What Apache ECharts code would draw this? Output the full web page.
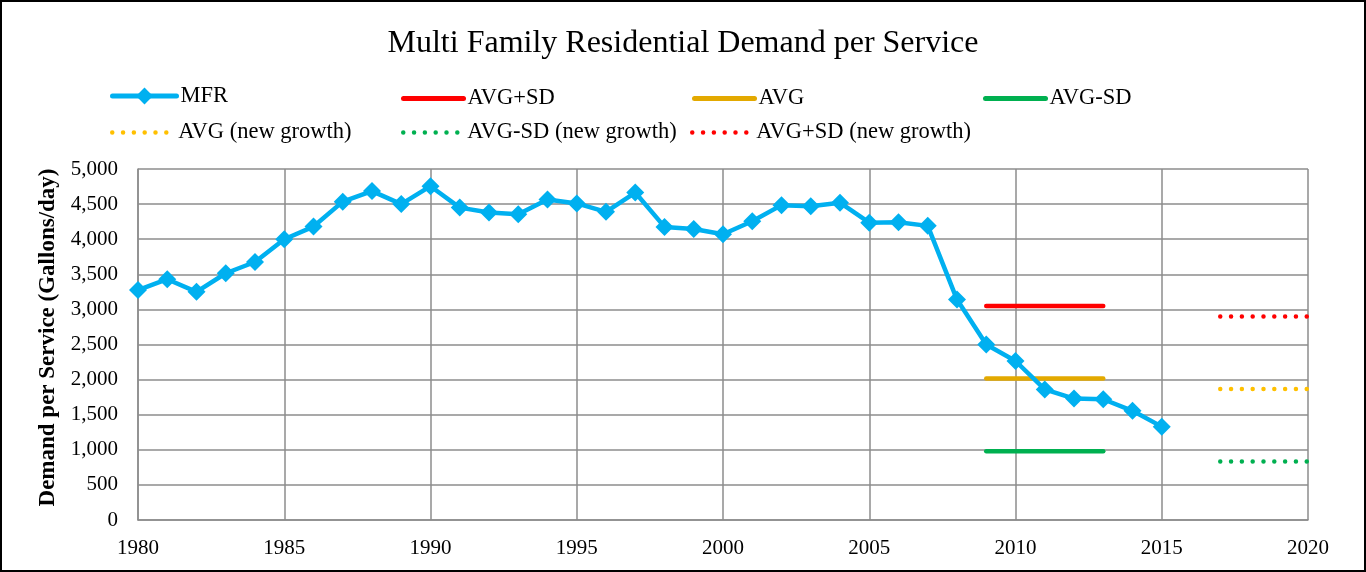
<!DOCTYPE html>
<html>
<head>
<meta charset="utf-8">
<script src="https://cdn.jsdelivr.net/npm/echarts@6/dist/echarts.min.js"></script>
<style>
html,body{margin:0;padding:0;background:#fff;}
#wrap{position:relative;width:1366px;height:572px;}
#chart{width:1366px;height:572px;}
#frame{position:absolute;left:0;top:0;width:1366px;height:572px;box-sizing:border-box;border:2px solid #000;pointer-events:none;}
</style>
</head>
<body>
<div id="wrap"><div id="chart"></div><div id="frame"></div></div>
<script>
// ---- data ----
const years = [1980,1981,1982,1983,1984,1985,1986,1987,1988,1989,1990,1991,1992,1993,1994,1995,1996,1997,1998,1999,2000,2001,2002,2003,2004,2005,2006,2007,2008,2009,2010,2011,2012,2013,2014,2015];
const mfr = [3275,3430,3250,3515,3675,4000,4180,4535,4685,4500,4755,4450,4380,4355,4565,4510,4390,4665,4175,4145,4070,4255,4485,4470,4520,4235,4240,4190,3140,2500,2265,1860,1730,1720,1555,1330];
const histYears = [2009, 2013];
const avgPlusSD = 3050;
const avg = 2015;
const avgMinusSD = 980;
const newYears = [2017, 2020];
const avgNew = 1865;
const avgMinusSDNew = 835;
const avgPlusSDNew = 2900;
const xTicks = {min:1980, max:2020, interval:5};
const yTicks = {min:0, max:5000, interval:500};

const pairs = (xs, v) => xs.map(x => [x, v]);
const FONT = '"Liberation Serif","Times New Roman",serif';

const chart = echarts.init(document.getElementById('chart'), null, {renderer:'canvas'});
const DOT = [0.01, 10.8];
const dotted = (color) => ({color: color, width: 4.5, type: DOT, cap: 'round'});

const legendDefs = [
  {name:'MFR', left:110, top:84.5, w:64, h:21, kind:'mfr'},
  {name:'AVG+SD', left:401, top:87, w:60, h:15, kind:'solid'},
  {name:'AVG', left:692, top:87, w:60, h:15, kind:'solid'},
  {name:'AVG-SD', left:983, top:87, w:60, h:15, kind:'solid'},
  {name:'AVG (new growth)', left:110, top:121, w:62, h:15, kind:'dot'},
  {name:'AVG-SD (new growth)', left:401, top:121, w:60, h:15, kind:'dot'},
  {name:'AVG+SD (new growth)', left:690, top:121, w:60, h:15, kind:'dot'}
];

const option = {
  animation:false,
  backgroundColor:'#fff',
  title:{
    text:'Multi Family Residential Demand per Service',
    left:'center', top:23,
    textStyle:{fontFamily:FONT, fontSize:32, fontWeight:'normal', color:'#000'}
  },
  legend: legendDefs.map(d => ({
    data:[d.name], left:d.left, top:d.top, itemWidth:d.w, itemHeight:d.h, itemGap:0,
    textStyle:{fontFamily:FONT, fontSize:22.5, color:'#000', padding:[0,0,0,-1]},
    padding:0,
    itemStyle: d.kind === 'mfr' ? {} : {opacity:0},
    lineStyle: d.kind === 'dot' ? {width:4.5, type:DOT, cap:'round'} : {width:5, cap:'round'}
  })),
  grid:{left:138, right:58, top:169, bottom:52, containLabel:false},
  xAxis:{
    type:'value', min:xTicks.min, max:xTicks.max, interval:xTicks.interval,
    axisLine:{show:true, lineStyle:{color:'#8c8c8c', width:1.5}},
    axisTick:{show:false},
    splitLine:{show:true, lineStyle:{color:'#8c8c8c', width:1.5}},
    axisLabel:{fontFamily:FONT, fontSize:21, color:'#000', margin:18, formatter: v => String(v)}
  },
  yAxis:{
    type:'value', min:yTicks.min, max:yTicks.max, interval:yTicks.interval,
    name:'Demand per Service (Gallons/day)', nameLocation:'middle', nameGap:75,
    nameTextStyle:{fontFamily:FONT, fontSize:23, fontWeight:'bold', color:'#000', padding:[0,0,0,14]},
    axisLine:{show:true, lineStyle:{color:'#8c8c8c', width:1.5}},
    axisTick:{show:false},
    splitLine:{show:true, lineStyle:{color:'#8c8c8c', width:1.5}},
    axisLabel:{fontFamily:FONT, fontSize:21, color:'#000', margin:20,
      formatter: v => v.toLocaleString('en-US')}
  },
  series:[
    {name:'MFR', type:'line', data: years.map((y,i)=>[y, mfr[i]]),
      symbol:'diamond', symbolSize:18, showSymbol:true,
      lineStyle:{color:'#00B0F0', width:4.5}, itemStyle:{color:'#00B0F0'}, z:5},
    {name:'AVG+SD', type:'line', data: pairs(histYears, avgPlusSD), symbol:'none',
      lineStyle:{color:'#FF0000', width:4.5, cap:'round'}, itemStyle:{color:'#FF0000'}},
    {name:'AVG', type:'line', data: pairs(histYears, avg), symbol:'none',
      lineStyle:{color:'#E3A900', width:4.5, cap:'round'}, itemStyle:{color:'#E3A900'}},
    {name:'AVG-SD', type:'line', data: pairs(histYears, avgMinusSD), symbol:'none',
      lineStyle:{color:'#00B050', width:4.5, cap:'round'}, itemStyle:{color:'#00B050'}},
    {name:'AVG (new growth)', type:'line', data: pairs(newYears, avgNew), symbol:'none',
      lineStyle:dotted('#FFC000'), itemStyle:{color:'#FFC000'}},
    {name:'AVG-SD (new growth)', type:'line', data: pairs(newYears, avgMinusSDNew), symbol:'none',
      lineStyle:dotted('#00B050'), itemStyle:{color:'#00B050'}},
    {name:'AVG+SD (new growth)', type:'line', data: pairs(newYears, avgPlusSDNew), symbol:'none',
      lineStyle:dotted('#FF0000'), itemStyle:{color:'#FF0000'}}
  ]
};
chart.setOption(option);
</script>
</body>
</html>
